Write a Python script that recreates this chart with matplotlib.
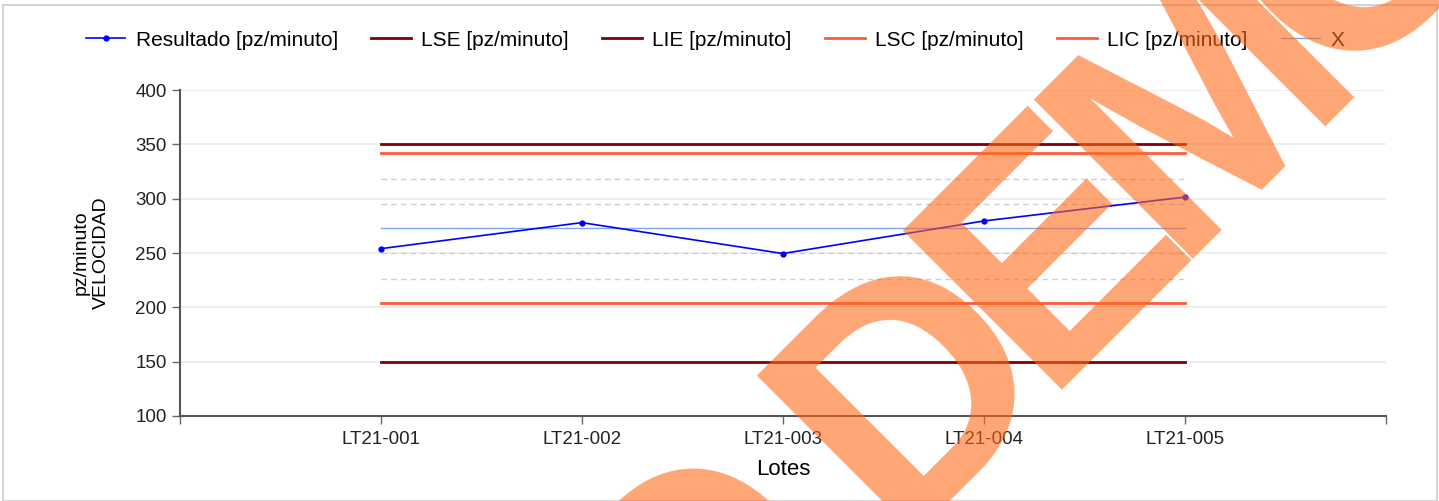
import numpy as np
import matplotlib.pyplot as plt
from matplotlib.patches import Rectangle

plt.rcParams['font.family'] = ['Liberation Sans', 'DejaVu Sans']

# Data
lotes = ['LT21-001', 'LT21-002', 'LT21-003', 'LT21-004', 'LT21-005']
resultado = [254, 278, 249.5, 279.5, 301.5]
lse = 350
lie = 150
lsc = 341.7
lic = 203.5
x_mean = 272.6
sigma_lines = [318.6, 295.6, 249.6, 226.5]

x = np.arange(len(lotes))

W, H = 1439, 501
fig = plt.figure(figsize=(W / 100, H / 100), dpi=100)
ax = fig.add_axes([0.125, 0.170, 0.838, 0.650])

# grid
for v in range(100, 401, 50):
    ax.axhline(v, color='#ebebeb', lw=1.2, zorder=0)
for v in sigma_lines:
    ax.plot([x[0], x[-1]], [v, v], color='#cfcfcf', lw=1, ls=(0, (4, 3)), zorder=1)

ax.plot(x, resultado, color='#0000ff', lw=1.2, marker='o', ms=3.5,
        label='Resultado [pz/minuto]', zorder=5)
ax.plot([x[0], x[-1]], [lse, lse], color='#800000', lw=2, label='LSE [pz/minuto]', zorder=3)
ax.plot([x[0], x[-1]], [lie, lie], color='#800000', lw=2, label='LIE [pz/minuto]', zorder=3)
ax.plot([x[0], x[-1]], [lsc, lsc], color='#ff5a3c', lw=2, label='LSC [pz/minuto]', zorder=3)
ax.plot([x[0], x[-1]], [lic, lic], color='#ff5a3c', lw=2, label='LIC [pz/minuto]', zorder=3)
ax.plot([x[0], x[-1]], [x_mean, x_mean], color='#7fa7ef', lw=1, label='X', zorder=3)

ax.set_xlim(-1, 5)
ax.set_ylim(100, 400)
ax.set_yticks(range(100, 401, 50))
ax.set_xticks(range(-1, 6))
ax.set_xticklabels([''] + lotes + [''])
ax.tick_params(axis='both', labelsize=13.5, colors='#222222', length=6, width=1,
               color='#666666')
ax.tick_params(axis='x', pad=5)

for s in ['top', 'right']:
    ax.spines[s].set_visible(False)
for s in ['left', 'bottom']:
    ax.spines[s].set_color('#555555')
    ax.spines[s].set_linewidth(1.5)

ax.set_xlabel('Lotes', fontsize=16, labelpad=8)
ax.set_ylabel('pz/minuto\nVELOCIDAD', fontsize=14, labelpad=18, linespacing=1.25)

fig.legend(loc='center', bbox_to_anchor=(0.497, 0.92), ncol=6, frameon=False,
           fontsize=15, handlelength=1.9, columnspacing=1.6, handletextpad=0.5)

# frame around the figure
fig.patches.append(Rectangle((3 / W, 0), 1 - 5 / W, 1 - 5 / H,
                             transform=fig.transFigure, fill=False,
                             edgecolor='#d4d4d4', lw=1.5))

# watermark, letters laid along a 45 degree line (narrow spacing)
wm = 'DEMO DEMO'
em = 345
adv = {'D': 0.592, 'E': 0.547, 'M': 0.683, 'O': 0.638, ' ': 0.228}
u = np.array([1, -1]) / np.sqrt(2)
pos = np.array([250.0, 1180.0])
for ch in wm:
    c = pos + adv[ch] * em / 2 * u
    if ch != ' ' and -200 < c[0] < W + 200 and -200 < c[1] < H + 200:
        fig.text(c[0] / W, 1 - c[1] / H, ch, fontsize=235, fontweight='bold',
                 color='#ff6a1a', alpha=0.6, rotation=45, rotation_mode='anchor',
                 ha='center', va='baseline', zorder=10)
    pos = pos + adv[ch] * em * u

fig.savefig('out.png', dpi=100)
